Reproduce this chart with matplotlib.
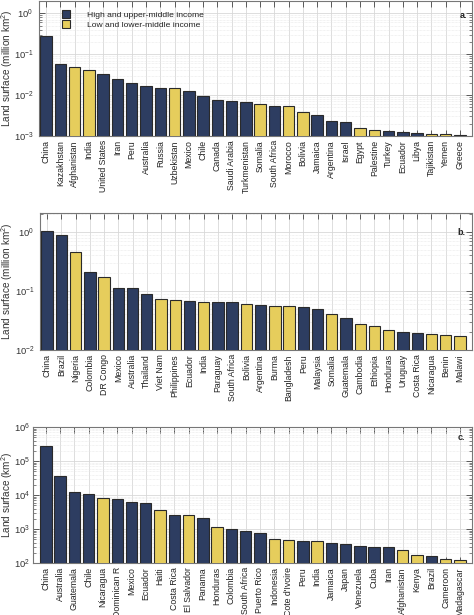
import matplotlib
matplotlib.use("Agg")
import matplotlib.pyplot as plt
from matplotlib.lines import Line2D
import matplotlib.ticker as mticker
import numpy as np

plt.rcParams['font.family'] = ['Liberation Sans', 'DejaVu Sans']
plt.rcParams['mathtext.fontset'] = 'custom'
plt.rcParams['mathtext.rm'] = 'Liberation Sans'

countries_a = ["China", "Kazakhstan", "Afghanistan", "India", "United States", "Iran", "Peru",
               "Australia", "Russia", "Uzbekistan", "Mexico", "Chile", "Canada", "Saudi Arabia",
               "Turkmenistan", "Somalia", "South Africa", "Morocco", "Bolivia", "Jamaica",
               "Argentina", "Israel", "Egypt", "Palestine", "Turkey", "Ecuador", "Libya",
               "Tajikistan", "Yemen", "Greece"]
values_a = [0.28, 0.058, 0.050, 0.041, 0.033, 0.0245, 0.0196, 0.0163, 0.0151, 0.0146, 0.0123,
            0.0095, 0.0078, 0.0073, 0.0067, 0.0059, 0.0055, 0.0054, 0.0038, 0.0033, 0.00237,
            0.00219, 0.00157, 0.0014, 0.00135, 0.00128, 0.00116, 0.00114, 0.00112, 0.00106]
income_a = ["H", "H", "L", "L", "H", "H", "H", "H", "H", "L", "H", "H", "H", "H", "H", "L",
            "H", "L", "L", "H", "H", "H", "L", "L", "H", "H", "H", "L", "L", "H"]

countries_b = ["China", "Brazil", "Nigeria", "Colombia", "DR Congo", "Mexico", "Australia",
               "Thailand", "Viet Nam", "Philippines", "Ecuador", "India", "Paraguay",
               "South Africa", "Bolivia", "Argentina", "Burma", "Bangladesh", "Peru", "Malaysia",
               "Somalia", "Guatemala", "Cambodia", "Ethiopia", "Honduras", "Uruguay",
               "Costa Rica", "Nicaragua", "Benin", "Malawi"]
values_b = [1.05, 0.89, 0.466, 0.214, 0.176, 0.113, 0.113, 0.088, 0.0718, 0.070, 0.0673, 0.0656,
            0.0647, 0.0647, 0.0607, 0.0569, 0.0561, 0.0560, 0.0526, 0.050, 0.0401, 0.0352,
            0.0275, 0.0258, 0.0221, 0.0199, 0.0196, 0.0189, 0.0179, 0.0170]
income_b = ["H", "H", "L", "H", "L", "H", "H", "H", "L", "L", "H", "L", "H", "H", "L", "H",
            "L", "L", "H", "H", "L", "H", "L", "L", "L", "H", "H", "L", "L", "L"]

countries_c = ["China", "Australia", "Guatemala", "Chile", "Nicaragua", "Dominican R", "Mexico",
               "Ecuador", "Haiti", "Costa Rica", "El Salvador", "Panama", "Honduras", "Colombia",
               "South Africa", "Puerto Rico", "Indonesia", "Cote d'Ivoire", "Peru", "India",
               "Jamaica", "Japan", "Venezuela", "Cuba", "Iran", "Afghanistan", "Kenya", "Brazil",
               "Cameroon", "Madagascar"]
values_c = [268000, 35600, 12550, 10470, 8340, 7450, 6210, 5930, 3520, 2620, 2560, 2140, 1160,
            967, 903, 788, 512, 478, 437, 437, 381, 356, 311, 297, 290, 248, 169, 165, 134, 123]
income_c = ["H", "H", "H", "H", "L", "H", "H", "H", "L", "H", "L", "H", "L", "H", "H", "H",
            "L", "L", "H", "L", "H", "H", "H", "H", "H", "L", "L", "H", "L", "L"]

legend_labels = ["High and upper-middle income", "Low and lower-middle income"]
panel_letters = ["a.", "b.", "c."]
ylabels = ["Land surface (million km$^2$)", "Land surface (million km$^2$)", "Land surface (km$^2$)"]

NAVY = "#2d3d61"
YELLOW = "#e6cd5c"
EDGE = "#2a2a2a"
colors = {"H": NAVY, "L": YELLOW}

W, H = 474, 615
fig = plt.figure(figsize=(W / 100, H / 100), dpi=100)

def ax_rect(left, top, right, bottom):
    return [left / W, (H - bottom) / H, (right - left) / W, (bottom - top) / H]

panels = [
    (countries_a, values_a, income_a, ax_rect(39, 1, 472, 136), (1e-3, 2.0), -0.5, 15, (0.988, 0.896), 4.0),
    (countries_b, values_b, income_b, ax_rect(40, 213, 472, 350), (1e-2, 2.1), -0.5, 15, (0.984, 0.861), 4.0),
    (countries_c, values_c, income_c, ax_rect(33, 427, 472, 563), (1e2, 1e6), -0.9, 15, (0.984, 0.92), 2.0),
]

for i, (names, vals, inc, rect, ylim, xl, ylx, letter_pos, ypad) in enumerate(panels):
    ax = fig.add_axes(rect)
    x = np.arange(len(names))
    ax.bar(x, vals, width=0.8, color=[colors[g] for g in inc], edgecolor=EDGE,
           linewidth=0.8, zorder=3)
    ax.set_yscale("log")
    ax.set_ylim(*ylim)
    ax.set_xlim(xl, len(names) - 0.15)
    ax.set_xticks(x)
    ax.set_xticklabels(names, rotation=90, fontsize=6.3)
    ax.yaxis.set_major_locator(mticker.LogLocator(base=10, numticks=10))
    ax.yaxis.set_minor_locator(mticker.LogLocator(base=10, subs=np.arange(2, 10), numticks=20))
    ax.yaxis.set_minor_formatter(mticker.NullFormatter())
    ax.tick_params(axis="y", which="major", labelsize=6.8, direction="in", length=4,
                   width=0.6, colors="#444444", labelcolor="#333333", right=True, pad=ypad)
    ax.tick_params(axis="y", which="minor", direction="in", length=2, width=0.5,
                   colors="#555555", right=True)
    ax.tick_params(axis="x", which="major", direction="in", length=4, width=0.6,
                   colors="#444444", labelcolor="#222222", top=True, pad=3)
    ax.grid(True, which="major", axis="both", color="#d8d8d8", linewidth=0.6, zorder=0)
    ax.grid(True, which="minor", axis="y", color="#e6e6e6", linewidth=0.5,
            linestyle=(0, (1, 1)), zorder=0)
    ax.set_axisbelow(True)
    for s in ax.spines.values():
        s.set_color("#777777")
        s.set_linewidth(0.8)
    ax.set_ylabel(ylabels[i], fontsize=7.2, color="#333333")
    ax.yaxis.set_label_coords(-(rect[0] * W - ylx) / (rect[2] * W), 0.5)
    ax.text(letter_pos[0], letter_pos[1], panel_letters[i], transform=ax.transAxes,
            fontsize=6.5, fontweight="bold", ha="right", va="center", color="#222222")
    if i == 0:
        handles = [Line2D([], [], marker="s", linestyle="none", markersize=6,
                          markerfacecolor=NAVY, markeredgecolor=EDGE, markeredgewidth=0.8),
                   Line2D([], [], marker="s", linestyle="none", markersize=6,
                          markerfacecolor=YELLOW, markeredgecolor=EDGE, markeredgewidth=0.8)]
        leg = ax.legend(handles, legend_labels, loc="upper left",
                        bbox_to_anchor=(0.035, 0.951), fontsize=6.1, frameon=False,
                        handlelength=2.0, handletextpad=1.5, labelspacing=0.2,
                        borderaxespad=0.0)
        for t in leg.get_texts():
            t.set_color("#222222")

fig.savefig("out.png", dpi=100)
